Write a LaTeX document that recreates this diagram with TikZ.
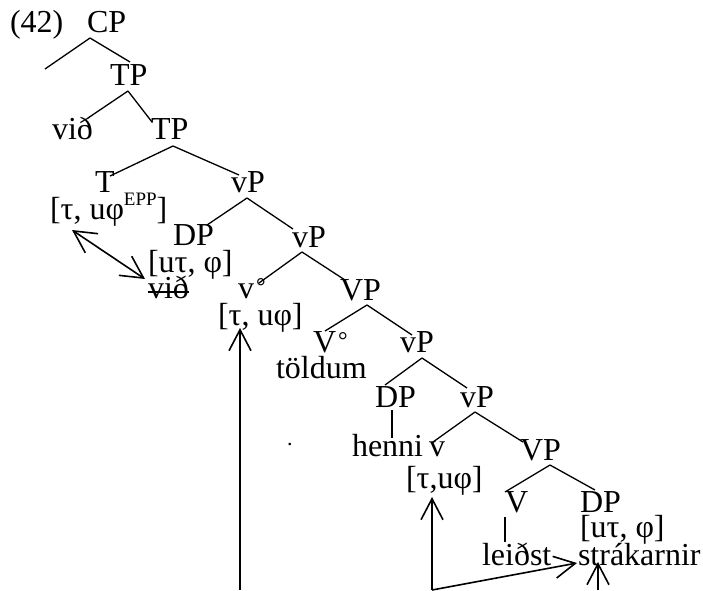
\documentclass[tikz,border=0pt]{standalone}
\usepackage{fontspec}
\setmainfont{Liberation Serif}
\usetikzlibrary{arrows.meta,calc}
% small raised ring after a head label (v°, V°)
\newcommand{\headmark}{{\fontsize{24}{24}\selectfont\kern2pt\raisebox{3.5pt}{°}}}
\begin{document}
\begin{tikzpicture}[x=1pt,y=-1pt,
  lbl/.style={inner sep=0pt, outer sep=0pt, anchor=base west, font=\fontsize{32}{32}\selectfont},
  branch/.style={line width=1.3pt},
  agree/.style={line width=1.6pt, -{Straight Barb[length=21pt,width=22pt]}},
  both/.style={line width=1.6pt, {Straight Barb[length=22pt,width=23pt]}-{Straight Barb[length=22pt,width=23pt]}},
]
\useasboundingbox (0,0) rectangle (703,590);

% labels
\node[lbl] (ex)    at (10,32)  {(42)};
\node[lbl] (CP)    at (87,32)  {CP};
\node[lbl] (TPa)   at (110,85) {TP};
\node[lbl] (vida)  at (52,139) {við};
\node[lbl] (TPb)   at (151,139) {TP};
\node[lbl] (T)     at (95,192) {T};
\node[lbl] (vPa)   at (231,192) {vP};
\node[lbl] (Tf)    at (50,219) {[τ, uφ\raisebox{14pt}{\fontsize{19}{19}\selectfont EPP}]};
\node[lbl] (DPa)   at (173,245) {DP};
\node[lbl] (vPb)   at (292,247) {vP};
\node[lbl] (DPaf)  at (148,272) {[uτ, φ]};
\node[lbl] (vidb)  at (148,298) {við};
\node[lbl] (vo)    at (238,298) {v\headmark};
\node[lbl] (VPa)   at (340,300) {VP};
\node[lbl] (vf)    at (218,325) {[τ, uφ]};
\node[lbl] (Vo)    at (313,352) {V\headmark};
\node[lbl] (vPc)   at (400,352) {vP};
\node[lbl] (toldum) at (276,378) {töldum};
\node[lbl] (DPb)   at (375,407) {DP};
\node[lbl] (vPd)   at (460,407) {vP};
\node[lbl] (henni) at (352,456) {henni};
\node[lbl] (vlow)  at (429,456) {v};
\node[lbl] (VPb)   at (520,460) {VP};
\node[lbl] (vlf)   at (406,488) {[τ,uφ]};
\node[lbl] (Vb)    at (505,512) {V};
\node[lbl] (DPc)   at (580,512) {DP};
\node[lbl] (DPcf)  at (580,537) {[uτ, φ]};
\node[lbl] (leidst) at (482,565) {leiðst};
\node[lbl] (strak) at (578,565) {strákarnir};
\node[lbl, font=\fontsize{22}{22}\selectfont] (dot) at (287,445) {.};

% free ends
\coordinate (cpleft) at (45,69);
\coordinate (bA) at (240,590);
\coordinate (bB) at (432,590);
\coordinate (bC) at (598,590);

% tree branches
\draw[branch] ($(CP.base west)+(3,6)$) -- (cpleft);
\draw[branch] ($(CP.base west)+(3,6)$) -- ($(TPa.base west)+(20,-23)$);
\draw[branch] ($(TPa.base west)+(18,6)$) -- ($(vida.base west)+(36,-21)$);
\draw[branch] ($(TPa.base west)+(18,6)$) -- ($(TPb.base west)+(1,-17)$);
\draw[branch] ($(TPb.base west)+(22,7)$) -- ($(T.base west)+(15,-16)$);
\draw[branch] ($(TPb.base west)+(22,7)$) -- ($(vPa.base west)+(8,-17)$);
\draw[branch] ($(vPa.base west)+(16,6)$) -- ($(DPa.base west)+(34,-20)$);
\draw[branch] ($(vPa.base west)+(16,6)$) -- ($(vPb.base west)+(1,-18)$);
\draw[branch] ($(vPb.base west)+(10,5)$) -- ($(vo.base west)+(21,-15)$);
\draw[branch] ($(vPb.base west)+(10,5)$) -- ($(VPa.base west)+(5,-20)$);
\draw[branch] ($(VPa.base west)+(27,5)$) -- ($(Vo.base west)+(12,-21)$);
\draw[branch] ($(VPa.base west)+(27,5)$) -- ($(vPc.base west)+(12,-17)$);
\draw[branch] ($(vPc.base west)+(22,6)$) -- ($(DPb.base west)+(10,-22)$);
\draw[branch] ($(vPc.base west)+(22,6)$) -- ($(vPd.base west)+(7,-19)$);
\draw[branch] ($(DPb.base west)+(17,3)$) -- ($(henni.base west)+(40,-18)$);
\draw[branch] ($(vPd.base west)+(15,5)$) -- ($(vlow.base west)+(4,-14)$);
\draw[branch] ($(vPd.base west)+(15,5)$) -- ($(VPb.base west)+(3,-18)$);
\draw[branch] ($(VPb.base west)+(30,5)$) -- ($(Vb.base west)+(0,-20)$);
\draw[branch] ($(VPb.base west)+(30,5)$) -- ($(DPc.base west)+(15,-22)$);
\draw[branch] ($(Vb.base west)+(0,5)$) -- ($(leidst.base west)+(23,-23)$);

% deleted copy
\draw[line width=2.4pt] ($(vidb.base west)+(0,-6)$) -- ($(vidb.base east)+(0,-6)$);

% agreement arrows
\draw[both] ($(Tf.base west)+(22,11)$) -- ($(vidb.base west)+(-3,-19)$);
\draw[agree] (bA) -- ($(vf.base west)+(22,3)$);
\draw[agree] (bB) -- ($(vlf.base west)+(26,9)$);
\draw[agree] (bB) -- ($(strak.base west)+(-1,-2)$);
\draw[agree] (bC) -- ($(strak.base west)+(20,-3)$);
\end{tikzpicture}
\end{document}
